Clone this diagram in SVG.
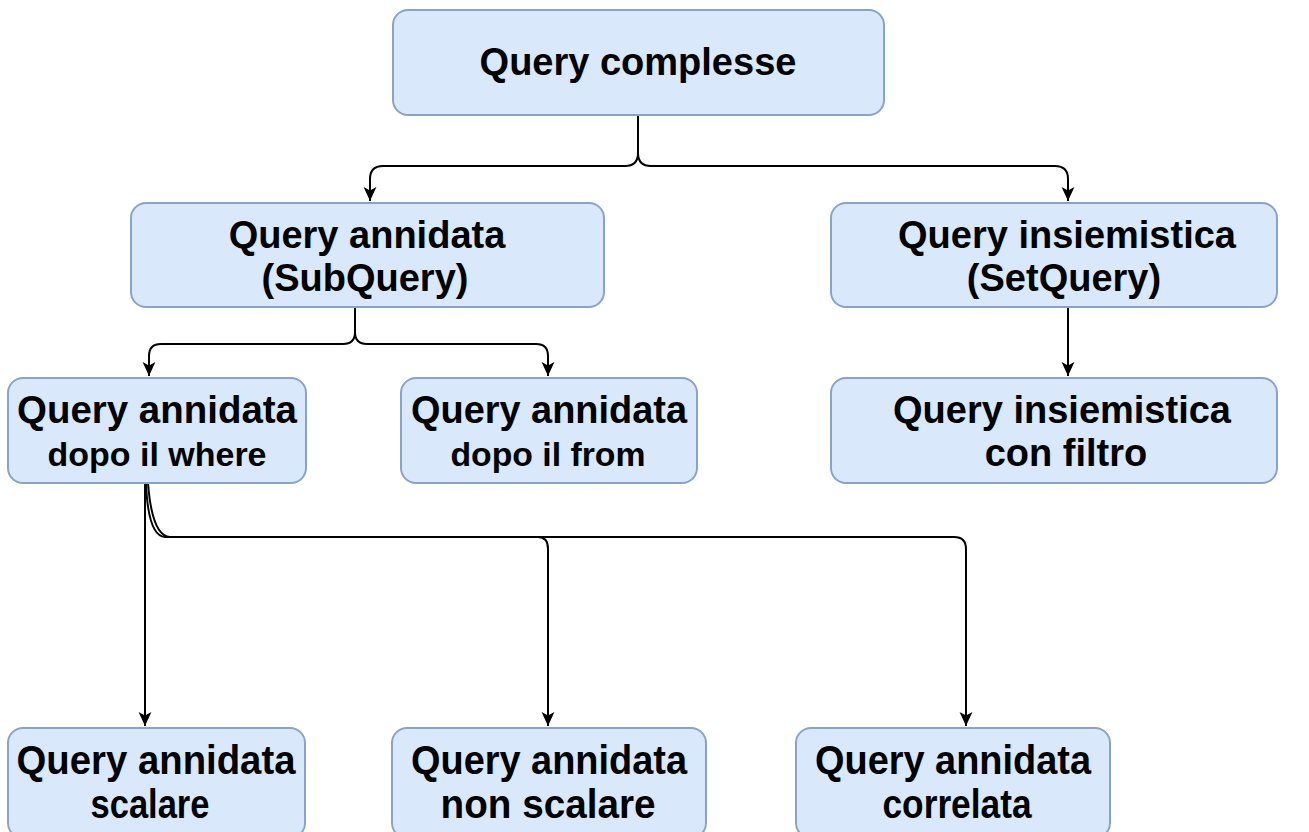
<svg xmlns="http://www.w3.org/2000/svg" width="1309" height="832" viewBox="0 0 1309 832">
<style>
.box{fill:#dae8fc;stroke:#8aa4c8;stroke-width:2}
.t{font-family:"Liberation Sans",Arial,sans-serif;font-weight:bold;font-size:38px;fill:#000;text-anchor:middle}
.c{font-family:"Liberation Sans",Arial,sans-serif;font-weight:bold;font-size:41px;fill:#000;text-anchor:middle}
.e{fill:none;stroke:#000;stroke-width:2}
</style>
<defs>
<marker id="arr" viewBox="0 0 12 12" refX="12" refY="6" markerWidth="14" markerHeight="14" markerUnits="userSpaceOnUse" orient="auto">
<path d="M0,0.5 L12,6 L0,11.5 L3,6 z" fill="#000"/>
</marker>
</defs>
<rect width="1309" height="832" fill="#fff"/>
<g id="connectors">
<path class="e" marker-end="url(#arr)" d="M638,115 L638,153 Q638,166 625,166 L383,166 Q370,166 370,179 L370,201"/>
<path class="e" marker-end="url(#arr)" d="M638,115 L638,153 Q638,166 651,166 L1055,166 Q1068,166 1068,179 L1068,201"/>
<path class="e" marker-end="url(#arr)" d="M355,307 L355,332 Q355,344 343,344 L161,344 Q149,344 149,356 L149,376"/>
<path class="e" marker-end="url(#arr)" d="M355,307 L355,332 Q355,344 367,344 L536,344 Q548,344 548,356 L548,376"/>
<path class="e" marker-end="url(#arr)" d="M1068,307 L1068,376"/>
<path class="e" marker-end="url(#arr)" d="M145,483 L145,726"/>
<path class="e" marker-end="url(#arr)" d="M146,483 Q148,536 165,537 L538,537 Q548,537 548,549 L548,726"/>
<path class="e" marker-end="url(#arr)" d="M148,483 Q152,536 170,537 L954,537 Q966,537 966,549 L966,726"/>
</g>
<g id="n-complesse">
<rect class="box" x="393" y="10" width="491" height="105" rx="15"/>
<text class="t" x="638" y="75">Query complesse</text>
</g>
<g id="n-subquery">
<rect class="box" x="131" y="203" width="473" height="104" rx="15"/>
<text class="t" x="367" y="248">Query annidata</text>
<text class="t" x="365" y="291">(SubQuery)</text>
</g>
<g id="n-setquery">
<rect class="box" x="831" y="203" width="446" height="104" rx="15"/>
<text class="t" x="1067" y="248">Query insiemistica</text>
<text class="t" x="1064" y="291">(SetQuery)</text>
</g>
<g id="n-where">
<rect class="box" x="8" y="378" width="298" height="105" rx="15"/>
<text class="t" x="157" y="423" textLength="280" lengthAdjust="spacingAndGlyphs">Query annidata</text>
<text class="t" x="157" y="466" style="font-size:34px" textLength="219" lengthAdjust="spacingAndGlyphs">dopo il where</text>
</g>
<g id="n-from">
<rect class="box" x="401" y="378" width="296" height="105" rx="15"/>
<text class="t" x="549" y="423" textLength="276" lengthAdjust="spacingAndGlyphs">Query annidata</text>
<text class="t" x="548" y="466" style="font-size:34px" textLength="195" lengthAdjust="spacingAndGlyphs">dopo il from</text>
</g>
<g id="n-filtro">
<rect class="box" x="831" y="378" width="446" height="105" rx="15"/>
<text class="t" x="1062" y="423">Query insiemistica</text>
<text class="t" x="1066" y="466">con filtro</text>
</g>
<g id="n-scalare">
<rect class="box" x="8" y="728" width="297" height="110" rx="15"/>
<text class="c" x="156" y="774" textLength="279" lengthAdjust="spacingAndGlyphs">Query annidata</text>
<text class="c" x="150" y="818" textLength="119" lengthAdjust="spacingAndGlyphs">scalare</text>
</g>
<g id="n-nonscalare">
<rect class="box" x="392" y="728" width="314" height="110" rx="15"/>
<text class="c" x="549" y="774" textLength="276" lengthAdjust="spacingAndGlyphs">Query annidata</text>
<text class="c" x="548" y="818" textLength="215" lengthAdjust="spacingAndGlyphs">non scalare</text>
</g>
<g id="n-correlata">
<rect class="box" x="796" y="728" width="314" height="110" rx="15"/>
<text class="c" x="953" y="774" textLength="276" lengthAdjust="spacingAndGlyphs">Query annidata</text>
<text class="c" x="957" y="818" textLength="149" lengthAdjust="spacingAndGlyphs">correlata</text>
</g>
</svg>
